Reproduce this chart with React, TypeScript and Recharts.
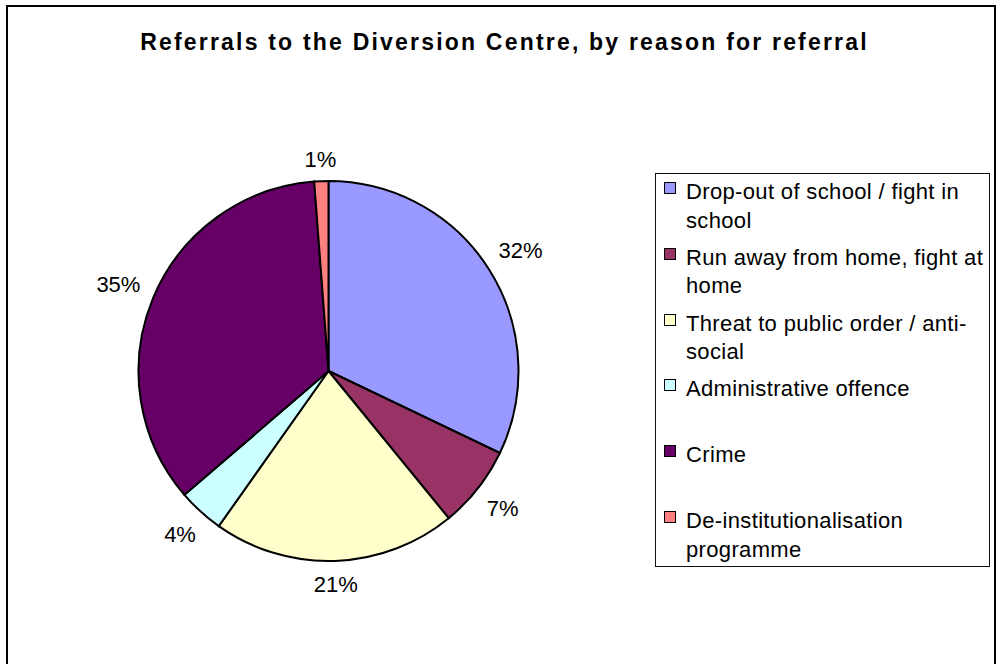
import { PieChart, Pie, Cell, Legend } from "recharts";

const categories = [
  "Drop-out of school / fight in school",
  "Run away from home, fight at home",
  "Threat to public order / anti-social",
  "Administrative offence",
  "Crime",
  "De-institutionalisation programme",
];
const shares = [32.1, 7.0, 20.7, 3.9, 35.1, 1.2];
const colors = ["#9999FF", "#993366", "#FFFFCC", "#CCFFFF", "#660066", "#FF8080"];

const data = categories.map((name, i) => ({ name, value: shares[i] }));

const FONT = '"Liberation Sans", Arial, sans-serif';
const RAD = Math.PI / 180;

interface LabelProps {
  cx: number;
  cy: number;
  midAngle: number;
  outerRadius: number;
  percent: number;
}

// Excel-style outside labels: keep the text box a fixed gap from the rim
function renderLabel({ cx, cy, midAngle, outerRadius, percent }: LabelProps) {
  const text = `${Math.round(percent * 100)}%`;
  const halfW = ((text.length - 1) * 0.556 + 0.889) * 11;
  const halfH = 8;
  const c = Math.cos(-midAngle * RAD);
  const s = Math.sin(-midAngle * RAD);
  const d = outerRadius + 14 + halfW * Math.abs(c) + halfH * Math.abs(s);
  const x = cx + d * c;
  const y = cy + d * s;
  return (
    <text
      x={x}
      y={y + 8}
      textAnchor="middle"
      fontSize={22}
      fontFamily={FONT}
      fill="#000"
    >
      {text}
    </text>
  );
}

function LegendBox() {
  return (
    <div
      style={{
        position: "relative",
        width: 335,
        height: 394,
        border: "1.5px solid #111",
        boxSizing: "border-box",
        background: "#fff",
        fontFamily: FONT,
        fontSize: 22,
        lineHeight: "28.5px",
        letterSpacing: 0.35,
        color: "#000",
      }}
    >
      {categories.map((name, i) => (
        <div
          key={name}
          style={{ position: "absolute", left: 0, top: 4 + i * 65.8, width: "100%" }}
        >
          <div
            style={{
              position: "absolute",
              left: 8,
              top: 4,
              width: 12,
              height: 12,
              background: colors[i],
              border: "1.5px solid #000",
              boxSizing: "border-box",
            }}
          />
          <div style={{ marginLeft: 30, width: 300 }}>{name}</div>
        </div>
      ))}
    </div>
  );
}

export default function App() {
  return (
    <div
      style={{
        position: "absolute",
        left: 0,
        top: 0,
        width: 1000,
        height: 664,
        background: "#fff",
        overflow: "hidden",
      }}
    >
      <div
        style={{
          position: "absolute",
          left: 6,
          top: 5,
          width: 990,
          height: 700,
          border: "2px solid #000",
          boxSizing: "border-box",
        }}
      />
      <div
        style={{
          position: "absolute",
          left: 0,
          top: 29,
          width: 1000,
          paddingLeft: 9,
          boxSizing: "border-box",
          textAlign: "center",
          fontFamily: FONT,
          fontWeight: "bold",
          fontSize: 23,
          lineHeight: "26px",
          letterSpacing: 2.2,
          color: "#000",
        }}
      >
        Referrals to the Diversion Centre, by reason for referral
      </div>
      <div style={{ position: "absolute", left: 0, top: 0 }}>
        <PieChart width={1000} height={664} margin={{ top: 0, right: 0, bottom: 0, left: 0 }}>
          <Pie
            data={data}
            dataKey="value"
            nameKey="name"
            cx={328.5}
            cy={371}
            outerRadius={190}
            startAngle={90}
            endAngle={-270}
            stroke="#000"
            strokeWidth={2}
            label={renderLabel}
            labelLine={false}
            isAnimationActive={false}
          >
            {data.map((entry, i) => (
              <Cell key={entry.name} fill={colors[i]} />
            ))}
          </Pie>
          <Legend
            content={() => <LegendBox />}
            wrapperStyle={{ position: "absolute", left: 655, top: 173, width: 335, height: 394 }}
          />
        </PieChart>
      </div>
    </div>
  );
}
